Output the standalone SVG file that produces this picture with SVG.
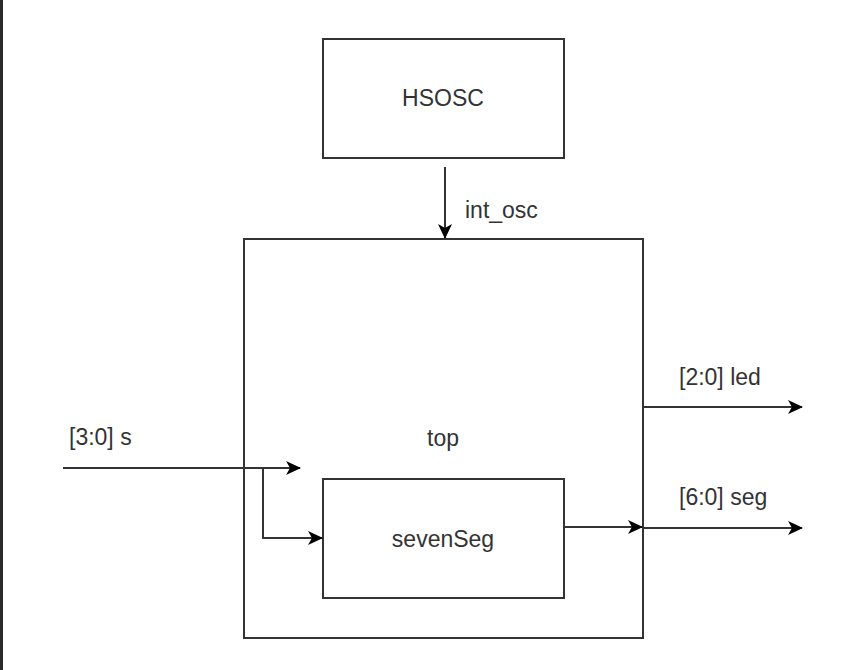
<svg xmlns="http://www.w3.org/2000/svg" width="858" height="670" viewBox="0 0 858 670">
<style>
.box{fill:#fff;stroke:#333;stroke-width:2}
.ln{fill:none;stroke:#333;stroke-width:2}
text{font-family:"Liberation Sans",Arial,sans-serif;font-size:23px;fill:#333}
.c{text-anchor:middle}
</style>
<defs>
<marker id="ar" viewBox="0 0 15 14" refX="14" refY="7" markerWidth="15" markerHeight="14" markerUnits="userSpaceOnUse" orient="auto">
<path d="M0,0 L15,7 L0,14 L4,7 Z" fill="#000"/>
</marker>
</defs>
<rect x="0" y="0" width="858" height="670" fill="#fff"/>
<rect x="0" y="0" width="3" height="670" fill="#2b2b2b"/>
<g id="top">
<rect class="box" x="244" y="239" width="399" height="399"/>
<text class="c" x="443" y="446">top</text>
</g>
<g id="hsosc">
<rect class="box" x="323" y="39" width="241" height="119"/>
<text class="c" x="443" y="106">HSOSC</text>
</g>
<g id="sevenseg">
<rect class="box" x="323" y="479" width="241" height="119"/>
<text class="c" x="443" y="547">sevenSeg</text>
</g>
<g id="connectors">
<path class="ln" d="M445,167 L445,238" marker-end="url(#ar)"/>
<path class="ln" d="M63,468 L300,468" marker-end="url(#ar)"/>
<path class="ln" d="M263,468 L263,538 L322,538" marker-end="url(#ar)"/>
<path class="ln" d="M564,527 L642,527" marker-end="url(#ar)"/>
<path class="ln" d="M643,528 L802,528" marker-end="url(#ar)"/>
<path class="ln" d="M643,407 L802,407" marker-end="url(#ar)"/>
<text x="465" y="218">int_osc</text>
<text x="69" y="445">[3:0] s</text>
<text x="679" y="385">[2:0] led</text>
<text x="679" y="505">[6:0] seg</text>
</g>
</svg>
